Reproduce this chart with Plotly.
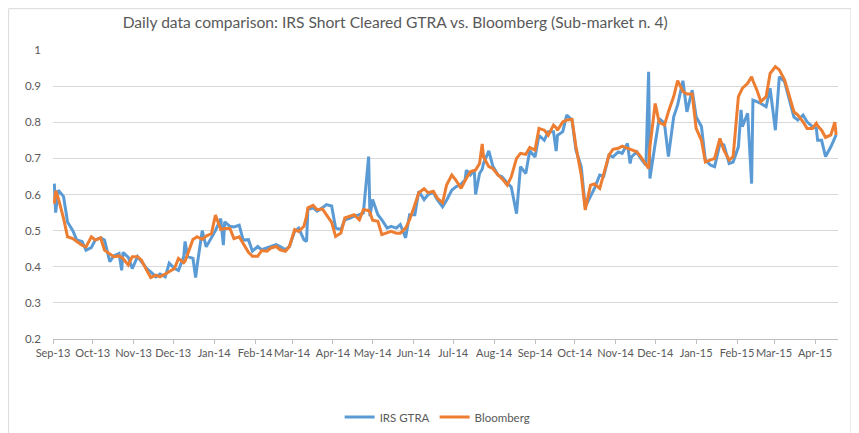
import plotly.graph_objects as go

# daily series (a few points per week)
dates = [
    "2013-09-02", "2013-09-03", "2013-09-05", "2013-09-09", "2013-09-12", "2013-09-16", "2013-09-19", "2013-09-23", "2013-09-26", "2013-09-30",
    "2013-10-03", "2013-10-07", "2013-10-10", "2013-10-14", "2013-10-17", "2013-10-21", "2013-10-23", "2013-10-24", "2013-10-28", "2013-10-31",
    "2013-11-04", "2013-11-07", "2013-11-11", "2013-11-14", "2013-11-18", "2013-11-21", "2013-11-25", "2013-11-28",
    "2013-12-02", "2013-12-05", "2013-12-09", "2013-12-10", "2013-12-12", "2013-12-16", "2013-12-18", "2013-12-19", "2013-12-23", "2013-12-26", "2013-12-30",
    "2014-01-02", "2014-01-06", "2014-01-08", "2014-01-09", "2014-01-13", "2014-01-16", "2014-01-20", "2014-01-23", "2014-01-27", "2014-01-30",
    "2014-02-03", "2014-02-06", "2014-02-10", "2014-02-13", "2014-02-17", "2014-02-20", "2014-02-24", "2014-02-27",
    "2014-03-03", "2014-03-06", "2014-03-10", "2014-03-12", "2014-03-13", "2014-03-17", "2014-03-20", "2014-03-24", "2014-03-27", "2014-03-31",
    "2014-04-03", "2014-04-07", "2014-04-10", "2014-04-14", "2014-04-17", "2014-04-21", "2014-04-24", "2014-04-28", "2014-04-29",
    "2014-05-01", "2014-05-05", "2014-05-08", "2014-05-12", "2014-05-15", "2014-05-19", "2014-05-22", "2014-05-26", "2014-05-29",
    "2014-06-02", "2014-06-05", "2014-06-09", "2014-06-12", "2014-06-16", "2014-06-19", "2014-06-23", "2014-06-26", "2014-06-30",
    "2014-07-03", "2014-07-07", "2014-07-10", "2014-07-11", "2014-07-14", "2014-07-17", "2014-07-18", "2014-07-21", "2014-07-23", "2014-07-24", "2014-07-28", "2014-07-31",
    "2014-08-04", "2014-08-07", "2014-08-11", "2014-08-14", "2014-08-18", "2014-08-21", "2014-08-25", "2014-08-28",
    "2014-09-01", "2014-09-04", "2014-09-08", "2014-09-11", "2014-09-15", "2014-09-17", "2014-09-18", "2014-09-22", "2014-09-25", "2014-09-29",
    "2014-10-02", "2014-10-06", "2014-10-09", "2014-10-13", "2014-10-16", "2014-10-20", "2014-10-23", "2014-10-27", "2014-10-30",
    "2014-11-03", "2014-11-06", "2014-11-10", "2014-11-12", "2014-11-13", "2014-11-17", "2014-11-20", "2014-11-24", "2014-11-26", "2014-11-27",
    "2014-12-01", "2014-12-04", "2014-12-08", "2014-12-11", "2014-12-15", "2014-12-18", "2014-12-22", "2014-12-25", "2014-12-29",
    "2015-01-01", "2015-01-05", "2015-01-08", "2015-01-12", "2015-01-15", "2015-01-19", "2015-01-22", "2015-01-26", "2015-01-29",
    "2015-02-02", "2015-02-04", "2015-02-05", "2015-02-09", "2015-02-12", "2015-02-13", "2015-02-16", "2015-02-19", "2015-02-23", "2015-02-26",
    "2015-03-02", "2015-03-05", "2015-03-09", "2015-03-12", "2015-03-16", "2015-03-19", "2015-03-23", "2015-03-26", "2015-03-30",
    "2015-04-02", "2015-04-03", "2015-04-06", "2015-04-09", "2015-04-13", "2015-04-16", "2015-04-17",
]

irs_gtra = [
    0.63, 0.55, 0.612, 0.594, 0.524, 0.50, 0.474, 0.47, 0.446, 0.453,
    0.474, 0.48, 0.474, 0.414, 0.43, 0.437, 0.39, 0.44, 0.426, 0.395,
    0.428, 0.414, 0.395, 0.386, 0.372, 0.38, 0.372, 0.41,
    0.395, 0.39, 0.428, 0.47, 0.428, 0.423, 0.37, 0.40, 0.50, 0.455, 0.483,
    0.50, 0.533, 0.46, 0.524, 0.512, 0.51, 0.515, 0.474, 0.475, 0.443,
    0.456, 0.447, 0.452, 0.456, 0.461, 0.456, 0.447, 0.456,
    0.498, 0.507, 0.475, 0.47, 0.558, 0.563, 0.554, 0.563, 0.572, 0.568,
    0.507, 0.503, 0.53, 0.535, 0.54, 0.544, 0.549, 0.705, 0.54,
    0.586, 0.544, 0.53, 0.507, 0.512, 0.507, 0.517, 0.48, 0.544,
    0.544, 0.609, 0.586, 0.60, 0.605, 0.586, 0.566, 0.584, 0.612,
    0.621, 0.629, 0.64, 0.667, 0.654, 0.667, 0.60, 0.658, 0.67, 0.686, 0.721, 0.679,
    0.654, 0.649, 0.632, 0.621, 0.547, 0.677, 0.658, 0.721,
    0.704, 0.764, 0.75, 0.774, 0.774, 0.72, 0.764, 0.774, 0.82, 0.806,
    0.723, 0.677, 0.566, 0.594, 0.617, 0.654, 0.651, 0.709, 0.704,
    0.718, 0.714, 0.741, 0.686, 0.704, 0.718, 0.70, 0.681, 0.94, 0.644,
    0.741, 0.81, 0.797, 0.705, 0.815, 0.848, 0.915, 0.829, 0.889,
    0.815, 0.788, 0.695, 0.681, 0.677, 0.741, 0.737, 0.686, 0.69,
    0.732, 0.834, 0.788, 0.825, 0.63, 0.861, 0.857, 0.852, 0.843, 0.894,
    0.778, 0.926, 0.912, 0.871, 0.815, 0.806, 0.82, 0.801, 0.788,
    0.783, 0.75, 0.75, 0.705, 0.732, 0.76, 0.765,
]

bloomberg = [
    0.575, 0.61, 0.59, 0.534, 0.483, 0.478, 0.47, 0.46, 0.455, 0.483,
    0.474, 0.48, 0.446, 0.435, 0.428, 0.43, 0.425, 0.423, 0.405, 0.428,
    0.428, 0.418, 0.39, 0.37, 0.377, 0.372, 0.38, 0.386,
    0.395, 0.423, 0.411, 0.415, 0.437, 0.476, 0.48, 0.483, 0.476, 0.485, 0.492,
    0.543, 0.503, 0.505, 0.506, 0.506, 0.478, 0.483, 0.465, 0.44, 0.429,
    0.429, 0.445, 0.443, 0.452, 0.456, 0.447, 0.443, 0.456,
    0.503, 0.498, 0.512, 0.54, 0.563, 0.57, 0.558, 0.56, 0.544, 0.523,
    0.484, 0.493, 0.535, 0.54, 0.544, 0.53, 0.558, 0.556, 0.55,
    0.529, 0.526, 0.489, 0.493, 0.498, 0.493, 0.493, 0.507, 0.53,
    0.572, 0.605, 0.616, 0.605, 0.609, 0.59, 0.577, 0.626, 0.654,
    0.64, 0.617, 0.64, 0.645, 0.663, 0.667, 0.668, 0.686, 0.74, 0.704, 0.677, 0.672,
    0.654, 0.644, 0.626, 0.649, 0.70, 0.714, 0.711, 0.73,
    0.723, 0.783, 0.778, 0.764, 0.792, 0.785, 0.778, 0.801, 0.806, 0.808,
    0.732, 0.654, 0.557, 0.626, 0.629, 0.617, 0.654, 0.709, 0.725,
    0.728, 0.734, 0.728, 0.726, 0.725, 0.718, 0.705, 0.681, 0.672, 0.732,
    0.852, 0.80, 0.792, 0.829, 0.871, 0.915, 0.885, 0.878, 0.878,
    0.783, 0.75, 0.69, 0.695, 0.70, 0.755, 0.723, 0.695, 0.705,
    0.871, 0.885, 0.894, 0.908, 0.926, 0.915, 0.889, 0.857, 0.871, 0.935,
    0.954, 0.945, 0.917, 0.88, 0.829, 0.82, 0.801, 0.783, 0.783,
    0.797, 0.79, 0.778, 0.758, 0.765, 0.80, 0.765,
]

assert len(dates) == len(irs_gtra) == len(bloomberg)

title_text = "Daily data comparison: IRS Short Cleared GTRA vs. Bloomberg (Sub-market n. 4)"
font_family = "Lato, 'Open Sans', sans-serif"
grey = "#595959"

fig = go.Figure()
fig.add_trace(go.Scatter(x=dates, y=irs_gtra, mode="lines", name="IRS GTRA",
                         line=dict(color="#5B9BD5", width=3)))
fig.add_trace(go.Scatter(x=dates, y=bloomberg, mode="lines", name="Bloomberg",
                         line=dict(color="#ED7D31", width=3)))

# light chart-area border like the Excel original
fig.add_shape(type="rect", xref="paper", yref="paper",
              x0=-0.0565, x1=1.0165, y0=-0.4, y1=1.143,
              line=dict(color="#D9D9D9", width=1), fillcolor="rgba(0,0,0,0)", layer="below")

# the page body adds an 8px offset, so the figure is 8px smaller than the window
fig.update_layout(
    width=851, height=425,
    margin=dict(l=45, r=21, t=42, b=94, autoexpand=False),
    paper_bgcolor="white", plot_bgcolor="white",
    font=dict(family=font_family, size=11, color=grey),
    title=dict(text=title_text, x=0.455, xanchor="center", y=0.965, yanchor="middle",
               font=dict(family=font_family, size=15.6, color=grey)),
    xaxis=dict(
        type="date",
        range=["2013-09-01", "2015-04-18 10:00"],
        tick0="2013-09-01", dtick="M1", tickformat="%b-%y", tickangle=0,
        showgrid=False, showline=True, linecolor="#BFBFBF", linewidth=1,
        ticks="outside", ticklen=4, tickcolor="#BFBFBF",
        tickfont=dict(size=11, color=grey), zeroline=False,
    ),
    yaxis=dict(
        range=[0.2, 1.0], dtick=0.1, tick0=0.2,
        showgrid=True, gridcolor="#D9D9D9", gridwidth=1,
        zeroline=False, showline=False, ticks="",
        ticklabelstandoff=11,
        tickfont=dict(size=11.5, color=grey),
    ),
    legend=dict(orientation="h", x=0.49, xanchor="center", y=-0.27, yanchor="middle",
                font=dict(size=11.5, color=grey), itemwidth=30, traceorder="normal"),
    showlegend=True,
)

fig.write_html("out.html")
